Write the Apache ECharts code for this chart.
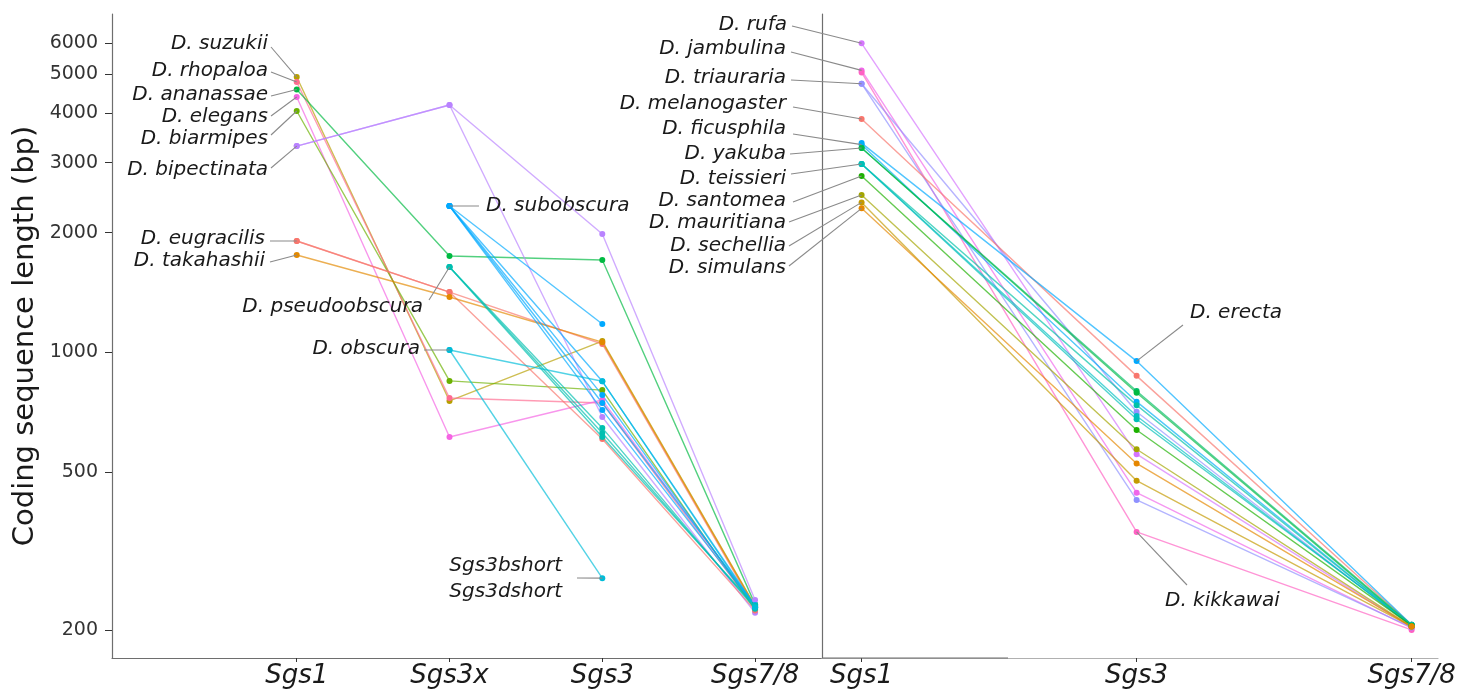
<!DOCTYPE html>
<html><head><meta charset="utf-8">
<script src="https://cdn.jsdelivr.net/npm/echarts@6/dist/echarts.min.js"></script>
<style>html,body{margin:0;padding:0;background:#fff}#c{width:1478px;height:692px}</style>
</head><body><div id="c"></div>
<script>
// ---------------- DATA ----------------
const leftCategories = ['Sgs1', 'Sgs3x', 'Sgs3', 'Sgs7/8'];
const rightCategories = ['Sgs1', 'Sgs3', 'Sgs7/8'];
const yTickValues = [200, 500, 1000, 2000, 3000, 4000, 5000, 6000];

// left panel: one entry per line (species / gene copy)
const leftSeriesNames = [
  'D. suzukii', 'D. rhopaloa', 'D. ananassae', 'D. elegans', 'D. biarmipes',
  'D. bipectinata', 'D. bipectinata (2)', 'D. eugracilis', 'D. eugracilis (2)', 'D. takahashii',
  'D. subobscura (1)', 'D. subobscura (2)', 'D. subobscura (3)', 'D. subobscura (4)', 'D. subobscura (5)',
  'D. pseudoobscura (1)', 'D. pseudoobscura (2)', 'D. pseudoobscura (3)',
  'D. obscura', 'D. obscura (short)'
];
const leftSgs1  = [4927, 4786, 4583, 4390, 4047, 3303, 3303, 1905, 1905, 1757, null, null, null, null, null, null, null, null, null, null];
const leftSgs3x = [754, 767, 1746, 612, 847, 4190, 4190, 1417, 1417, 1377, 2333, 2333, 2333, 2333, 2333, 1638, 1638, 1638, 1013, 1013];
const leftSgs3  = [1067, 745, 1706, 758, 803, 1984, 687, 1049, 605, 1060, 1178, 845, 780, 745, 715, 645, 626, 612, 845, 270];
const leftSgs78 = [230, 226, 232, 229, 225, 238, 221, 227, 224, 229, null, 230, 228, 231, 229, 226, 228, 230, 228, null];

// right panel
const rightSeriesNames = [
  'D. rufa', 'D. jambulina', 'D. kikkawai', 'D. triauraria', 'D. triauraria (2)', 'D. melanogaster',
  'D. erecta', 'D. ficusphila', 'D. yakuba', 'D. yakuba (2)', 'D. teissieri', 'D. teissieri (2)',
  'D. teissieri (3)', 'D. santomea', 'D. mauritiana', 'D. sechellia', 'D. simulans'
];
const rightSgs1  = [5990, 5121, 5060, 4740, 4740, 3863, 3360, 3330, 3267, 3267, 2976, 2976, 2976, 2776, 2486, 2383, 2302];
const rightSgs3  = [554, 443, 353, 425, 708, 872, 950, 751, 799, 791, 736, 691, 678, 637, 570, 475, 525];
const rightSgs78 = [203, 202, 200, 203, 204, 206, 206, 205, 206, 205, 205, 205, 206, 205, 204, 204, 204];

// ---------------- STYLE ----------------
const leftColors = ['#B79F00', '#FF6C91', '#00BA42', '#F564E3', '#6BB100', '#B983FF', '#B983FF', '#F8766D', '#F8766D', '#E38900',
  '#00A9FF', '#00A9FF', '#00A9FF', '#00A9FF', '#00A9FF', '#00BFB0', '#00BFB0', '#00BFB0', '#00BCD8', '#00BCD8'];
const rightColors = ['#D575FE', '#F066EA', '#FF61C3', '#8F91FF', '#9590FF', '#F8766D', '#00A9FF', '#00B0F6', '#00BE67', '#00BA42',
  '#00C1A7', '#00BFC4', '#00C0B8', '#1DB100', '#A3A500', '#C49A00', '#E58700'];

const G = {top: 14, bottom: 658, l0: 112, l1: 822, r1: 1438};
const TXT = '#1a1a1a';
const labelFont = {fontStyle: 'italic', fontSize: 20, fontFamily: 'DejaVu Sans'};

// label layout (pixel positions of the text labels and their leader-line starts)
const labelLayout = [
  {text: 'D. suzukii', panel: 0, idx: 0, j: 0, tx: 268, ty: 44, align: 'right', sx: 271, sy: 47},
  {text: 'D. rhopaloa', panel: 0, idx: 1, j: 0, tx: 268, ty: 71, align: 'right', sx: 271, sy: 72},
  {text: 'D. ananassae', panel: 0, idx: 2, j: 0, tx: 268, ty: 95, align: 'right', sx: 271, sy: 96},
  {text: 'D. elegans', panel: 0, idx: 3, j: 0, tx: 268, ty: 117, align: 'right', sx: 271, sy: 116},
  {text: 'D. biarmipes', panel: 0, idx: 4, j: 0, tx: 268, ty: 139, align: 'right', sx: 271, sy: 135},
  {text: 'D. bipectinata', panel: 0, idx: 5, j: 0, tx: 268, ty: 170, align: 'right', sx: 271, sy: 168},
  {text: 'D. eugracilis', panel: 0, idx: 7, j: 0, tx: 265, ty: 239, align: 'right', sx: 270, sy: 241},
  {text: 'D. takahashii', panel: 0, idx: 9, j: 0, tx: 265, ty: 261, align: 'right', sx: 270, sy: 262},
  {text: 'D. subobscura', panel: 0, idx: 10, j: 1, tx: 486, ty: 206, align: 'left', sx: 479, sy: 206},
  {text: 'D. pseudoobscura', panel: 0, idx: 15, j: 1, tx: 423, ty: 307, align: 'right', sx: 429, sy: 300},
  {text: 'D. obscura', panel: 0, idx: 18, j: 1, tx: 420, ty: 349, align: 'right', sx: 424, sy: 350},
  {text: 'Sgs3bshort\nSgs3dshort', panel: 0, idx: 19, j: 2, tx: 562, ty: 579, align: 'right', sx: 577, sy: 578},
  {text: 'D. rufa', panel: 1, idx: 0, j: 0, tx: 787, ty: 25, align: 'right', sx: 792, sy: 26},
  {text: 'D. jambulina', panel: 1, idx: 1, j: 0, tx: 786, ty: 49, align: 'right', sx: 791, sy: 52},
  {text: 'D. triauraria', panel: 1, idx: 3, j: 0, tx: 786, ty: 78, align: 'right', sx: 791, sy: 80},
  {text: 'D. melanogaster', panel: 1, idx: 5, j: 0, tx: 786, ty: 104, align: 'right', sx: 793, sy: 107},
  {text: 'D. ficusphila', panel: 1, idx: 7, j: 0, tx: 786, ty: 129, align: 'right', sx: 793, sy: 134},
  {text: 'D. yakuba', panel: 1, idx: 8, j: 0, tx: 786, ty: 154, align: 'right', sx: 790, sy: 154},
  {text: 'D. teissieri', panel: 1, idx: 10, j: 0, tx: 786, ty: 179, align: 'right', sx: 791, sy: 174},
  {text: 'D. santomea', panel: 1, idx: 13, j: 0, tx: 786, ty: 201, align: 'right', sx: 793, sy: 202},
  {text: 'D. mauritiana', panel: 1, idx: 14, j: 0, tx: 786, ty: 223, align: 'right', sx: 789, sy: 222},
  {text: 'D. sechellia', panel: 1, idx: 15, j: 0, tx: 786, ty: 246, align: 'right', sx: 789, sy: 246},
  {text: 'D. simulans', panel: 1, idx: 16, j: 0, tx: 786, ty: 268, align: 'right', sx: 789, sy: 266},
  {text: 'D. erecta', panel: 1, idx: 6, j: 1, tx: 1190, ty: 313, align: 'left', sx: 1183, sy: 325},
  {text: 'D. kikkawai', panel: 1, idx: 2, j: 1, tx: 1165, ty: 601, align: 'left', sx: 1187, sy: 585}
];

// ---------------- BUILD ----------------
const leftCols = [leftSgs1, leftSgs3x, leftSgs3, leftSgs78];
const rightCols = [rightSgs1, rightSgs3, rightSgs78];

function buildSeries(names, cols, colors, axisIdx) {
  return names.map((nm, i) => ({
    name: nm,
    type: 'line',
    xAxisIndex: axisIdx, yAxisIndex: axisIdx,
    data: cols.map((arr, j) => [j, arr[i]]).filter(d => d[1] != null),
    symbol: 'circle', symbolSize: 6, showSymbol: true,
    lineStyle: {color: colors[i], width: 1.4, opacity: 0.68},
    itemStyle: {color: colors[i]},
    emphasis: {disabled: true},
    animation: false, silent: true
  }));
}

const yAxisBase = {
  type: 'log', logBase: 10, min: 170, max: 7100,
  splitLine: {show: false}
};

const option = {
  backgroundColor: '#fff',
  animation: false,
  grid: [
    {left: G.l0, top: G.top, width: G.l1 - G.l0, height: G.bottom - G.top},
    {left: G.l1, top: G.top, width: G.r1 - G.l1, height: G.bottom - G.top}
  ],
  xAxis: [
    {gridIndex: 0, type: 'value', min: -1.209, max: 3.438,
      axisLine: {onZero: false, lineStyle: {color: '#6e6e6e', width: 1.2}},
      axisTick: {customValues: [0, 1, 2, 3], length: 4, lineStyle: {color: '#333'}},
      axisLabel: {customValues: [0, 1, 2, 3], formatter: v => leftCategories[Math.round(v)],
        fontStyle: 'italic', fontSize: 26, fontFamily: 'DejaVu Sans', color: TXT, margin: 5},
      splitLine: {show: false}},
    {gridIndex: 1, type: 'value', min: -0.144, max: 2.096,
      axisLine: {onZero: false, lineStyle: {color: '#b0b0b0', width: 1.2}},
      axisTick: {customValues: [0, 1, 2], length: 4, lineStyle: {color: '#333'}},
      axisLabel: {customValues: [0, 1, 2], formatter: v => rightCategories[Math.round(v)],
        fontStyle: 'italic', fontSize: 26, fontFamily: 'DejaVu Sans', color: TXT, margin: 5},
      splitLine: {show: false}}
  ],
  yAxis: [
    Object.assign({}, yAxisBase, {gridIndex: 0,
      axisLine: {show: true, onZero: false, lineStyle: {color: '#6e6e6e', width: 1.2}},
      axisTick: {show: true, customValues: yTickValues, length: 7, lineStyle: {color: '#333'}},
      axisLabel: {customValues: yTickValues, formatter: v => String(Math.round(v)),
        fontSize: 19, fontFamily: 'DejaVu Sans', color: '#333', margin: 14},
      name: 'Coding sequence length (bp)', nameLocation: 'middle', nameGap: 72,
      nameTextStyle: {fontSize: 29, fontFamily: 'DejaVu Sans', color: TXT}}),
    Object.assign({}, yAxisBase, {gridIndex: 1,
      axisLine: {show: true, onZero: false, lineStyle: {color: '#6e6e6e', width: 1.2}},
      axisTick: {show: false}, axisLabel: {show: false}})
  ],
  series: buildSeries(leftSeriesNames, leftCols, leftColors, 0)
    .concat(buildSeries(rightSeriesNames, rightCols, rightColors, 1))
};

const chart = echarts.init(document.getElementById('c'));
chart.setOption(option);

// labels with leader lines to their data points
const graphics = [];
labelLayout.forEach(L => {
  const cols = L.panel === 0 ? leftCols : rightCols;
  const p = chart.convertToPixel({gridIndex: L.panel}, [L.j, cols[L.j][L.idx]]);
  graphics.push({type: 'line', silent: true, z: 50,
    shape: {x1: L.sx, y1: L.sy, x2: p[0], y2: p[1]},
    style: {stroke: '#8a8a8a', lineWidth: 1.1}});
  graphics.push({type: 'text', silent: true, z: 60,
    style: Object.assign({text: L.text, x: L.tx, y: L.ty, align: L.align, verticalAlign: 'middle',
      fill: TXT, lineHeight: 26}, labelFont)});
});
// darker segment of the lower axis continuing into the right panel
const yb = chart.convertToPixel({gridIndex: 1}, [0, 170])[1];
graphics.push({type: 'line', silent: true, z: 40,
  shape: {x1: G.l1, y1: yb, x2: 1008, y2: yb}, style: {stroke: '#6e6e6e', lineWidth: 1.2}});
chart.setOption({graphic: graphics});
</script>
</body></html>
